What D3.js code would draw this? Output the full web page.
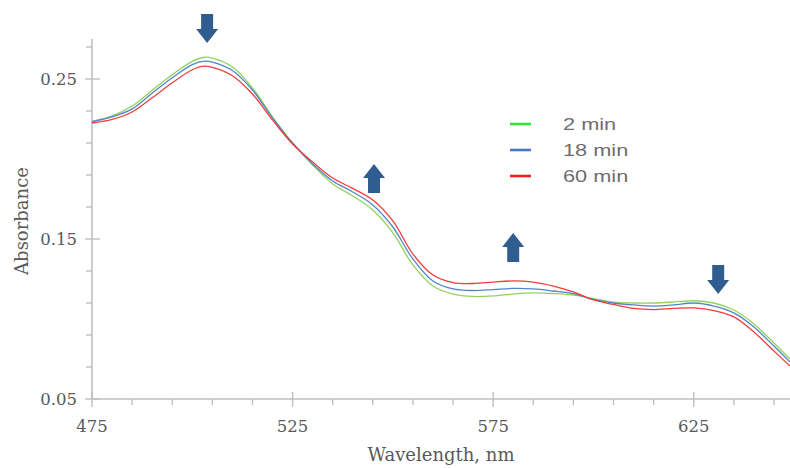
<!DOCTYPE html>
<html>
<head>
<meta charset="utf-8">
<script src="https://cdn.jsdelivr.net/npm/d3@7"></script>
<style>
  body { margin: 0; background: #fff; }
  svg { display: block; }
</style>
</head>
<body>
<div id="chart"></div>
<script>
// wavelengths (nm) shared by the three spectra
const wavelengths = [475, 480, 485, 490, 495, 500, 503, 505, 510, 515, 520, 525, 530, 535, 540, 545,
  550, 555, 560, 565, 570, 575, 580, 585, 590, 595, 600, 605, 610, 615, 620, 625, 630, 635, 640, 645, 649];

const abs2min = [0.2234, 0.2269, 0.2331, 0.2430, 0.2527, 0.2610, 0.2636, 0.2630, 0.2575, 0.2444, 0.2263, 0.2100,
  0.1963, 0.1844, 0.1769, 0.1681, 0.1538, 0.1338, 0.1206, 0.1156, 0.1141, 0.1144, 0.1156, 0.1163, 0.1159,
  0.1150, 0.1128, 0.1106, 0.1100, 0.1100, 0.1106, 0.1114, 0.1100, 0.1056, 0.0969, 0.0850, 0.0750];

const abs18min = [0.2234, 0.2263, 0.2313, 0.2412, 0.2508, 0.2590, 0.2612, 0.2606, 0.2553, 0.2431, 0.2256, 0.2100,
  0.1969, 0.1863, 0.1794, 0.1713, 0.1575, 0.1375, 0.1238, 0.1188, 0.1178, 0.1184, 0.1191, 0.1188, 0.1175,
  0.1159, 0.1122, 0.1100, 0.1088, 0.1081, 0.1088, 0.1100, 0.1081, 0.1038, 0.0950, 0.0831, 0.0731];

const abs60min = [0.2225, 0.2247, 0.2294, 0.2383, 0.2476, 0.2558, 0.2580, 0.2572, 0.2520, 0.2406, 0.2244, 0.2094,
  0.1981, 0.1881, 0.1816, 0.1744, 0.1613, 0.1406, 0.1275, 0.1228, 0.1222, 0.1231, 0.1238, 0.1231, 0.1206,
  0.1169, 0.1119, 0.1091, 0.1066, 0.1059, 0.1066, 0.1069, 0.1053, 0.1013, 0.0919, 0.0800, 0.0706];

const seriesNames = ["2 min", "18 min", "60 min"];
const lineColors = ["#8fd45e", "#5286c4", "#f23c3c"];
const legendColors = ["#33e633", "#4a76c2", "#ff1a1a"];

const xTicks = [475, 525, 575, 625];
const yTicks = [0.05, 0.15, 0.25];

// arrows: wavelength, absorbance at the tip, direction
const arrowX = [503.7, 545.3, 580, 631.1];
const arrowTip = [0.2725, 0.1969, 0.1538, 0.1156];
const arrowDir = ["down", "up", "up", "down"];

const width = 790, height = 468;
const margin = { left: 92, right: 0, top: 39, bottom: 69 };

const svg = d3.select("#chart")
    .append("svg")
    .attr("width", width)
    .attr("height", height);

const x = d3.scaleLinear()
    .domain([475, 649])
    .range([margin.left, 790]);

const y = d3.scaleLinear()
    .domain([0.05, 0.275])
    .range([399, 39]);

const axisColor = "#bfbfbf";
const textColor = "#595959";
const serif = "'DejaVu Serif', serif";

// Y axis
const yAxis = svg.append("g");
yAxis.append("line")
    .attr("x1", x(475)).attr("x2", x(475))
    .attr("y1", y.range()[1]).attr("y2", y(0.05))
    .attr("stroke", axisColor).attr("stroke-width", 1.6);

const yMinor = d3.range(0.07, 0.28, 0.02).filter(v => !yTicks.some(t => Math.abs(t - v) < 1e-6));
yAxis.selectAll(".yminor")
    .data(yMinor)
    .enter()
    .append("line")
    .attr("x1", x(475) - 6).attr("x2", x(475))
    .attr("y1", d => y(d)).attr("y2", d => y(d))
    .attr("stroke", axisColor).attr("stroke-width", 1.4);

yAxis.selectAll(".ymajor")
    .data(yTicks)
    .enter()
    .append("line")
    .attr("x1", x(475) - 7).attr("x2", x(475) + 8)
    .attr("y1", d => y(d)).attr("y2", d => y(d))
    .attr("stroke", axisColor).attr("stroke-width", 1.4);

yAxis.selectAll(".ylabel")
    .data(yTicks)
    .enter()
    .append("text")
    .attr("x", 77)
    .attr("y", d => y(d))
    .attr("dy", "0.36em")
    .attr("text-anchor", "end")
    .style("font-family", serif)
    .style("font-size", "16.5px")
    .style("fill", textColor)
    .text(d => d.toFixed(2));

// X axis
const xAxis = svg.append("g");
xAxis.append("line")
    .attr("x1", x(475)).attr("x2", width)
    .attr("y1", y(0.05)).attr("y2", y(0.05))
    .attr("stroke", axisColor).attr("stroke-width", 1.6);

const xMinor = d3.range(485, 650, 10).filter(v => !xTicks.includes(v));
xAxis.selectAll(".xminor")
    .data(xMinor)
    .enter()
    .append("line")
    .attr("x1", d => x(d)).attr("x2", d => x(d))
    .attr("y1", y(0.05)).attr("y2", y(0.05) + 6)
    .attr("stroke", axisColor).attr("stroke-width", 1.4);

xAxis.selectAll(".xmajor")
    .data(xTicks)
    .enter()
    .append("line")
    .attr("x1", d => x(d)).attr("x2", d => x(d))
    .attr("y1", y(0.05) - 7).attr("y2", y(0.05) + 8)
    .attr("stroke", axisColor).attr("stroke-width", 1.4);

xAxis.selectAll(".xlabel")
    .data(xTicks)
    .enter()
    .append("text")
    .attr("x", d => x(d))
    .attr("y", 432)
    .attr("text-anchor", "middle")
    .style("font-family", serif)
    .style("font-size", "16.5px")
    .style("fill", textColor)
    .text(d => d);

// axis titles
svg.append("text")
    .attr("x", 441)
    .attr("y", 461)
    .attr("text-anchor", "middle")
    .style("font-family", serif)
    .style("font-size", "18px")
    .style("fill", textColor)
    .text("Wavelength, nm");

svg.append("text")
    .attr("transform", "translate(28, 221) rotate(-90)")
    .attr("text-anchor", "middle")
    .style("font-family", serif)
    .style("font-size", "18px")
    .style("fill", textColor)
    .text("Absorbance");

// spectra
const seriesData = [abs2min, abs18min, abs60min];
const line = d3.line()
    .x(d => x(d[0]))
    .y(d => y(d[1]))
    .curve(d3.curveCatmullRom.alpha(0.5));

svg.append("g")
    .selectAll("path")
    .data(seriesData)
    .enter()
    .append("path")
    .attr("d", vals => line(wavelengths.map((w, i) => [w, vals[i]])))
    .attr("fill", "none")
    .attr("stroke", (d, i) => lineColors[i])
    .attr("stroke-width", 1.3);

// legend
const legend = svg.append("g");
seriesNames.forEach((name, i) => {
    const ly = 124 + i * 26;
    legend.append("line")
        .attr("x1", 510).attr("x2", 531)
        .attr("y1", ly).attr("y2", ly)
        .attr("stroke", legendColors[i])
        .attr("stroke-width", 2.6);
    legend.append("text")
        .attr("transform", `translate(563, ${ly + 6}) scale(1.28, 1)`)
        .style("font-family", "'Liberation Sans', Arial, sans-serif")
        .style("font-size", "17px")
        .style("fill", "#6e6e6e")
        .text(name);
});

// arrows
const arrowW = 12, headW = 22, arrowH = 29, headH = 14;
function arrowPath(cx, tipY, dir) {
    const s = dir === "down" ? -1 : 1;
    const base = tipY + s * arrowH;
    const neck = tipY + s * headH;
    return `M${cx},${tipY} L${cx + headW / 2},${neck} L${cx + arrowW / 2},${neck} L${cx + arrowW / 2},${base}`
        + ` L${cx - arrowW / 2},${base} L${cx - arrowW / 2},${neck} L${cx - headW / 2},${neck} Z`;
}

svg.append("g")
    .selectAll("path")
    .data(arrowX)
    .enter()
    .append("path")
    .attr("d", (d, i) => arrowPath(x(d), y(arrowTip[i]), arrowDir[i]))
    .attr("fill", "#305d8f");
</script>
</body>
</html>
